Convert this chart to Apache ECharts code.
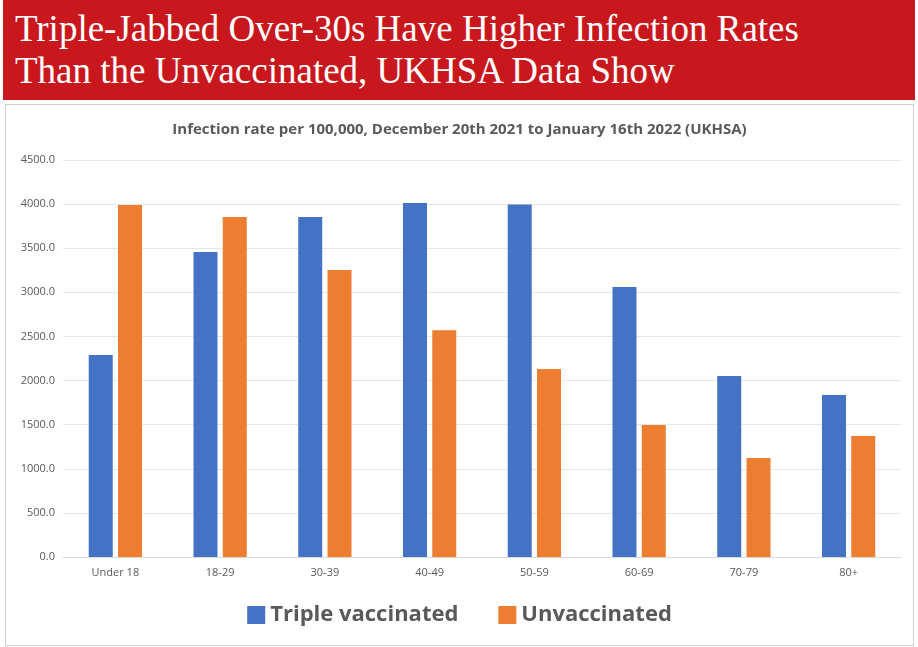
<!DOCTYPE html>
<html>
<head>
<meta charset="utf-8">
<script src="https://cdn.jsdelivr.net/npm/echarts@6/dist/echarts.min.js"></script>
<style>
  body { margin: 0; background: #fff; }
  .banner { position: absolute; left: 3px; top: 0; width: 912px; height: 100px; background: #c8181e;
    color: #fff; font-family: "Liberation Serif", "DejaVu Serif", serif; font-size: 37px; line-height: 42px;
    padding: 8px 0 0 12px; box-sizing: border-box; }
  .box { position: absolute; left: 5px; top: 104px; width: 907px; height: 540px; border: 1px solid #d0d0d0; }
  #chart { width: 907px; height: 540px; }
</style>
</head>
<body>
<div class="banner">Triple-Jabbed Over-30s Have Higher Infection Rates<br>Than the Unvaccinated, UKHSA Data Show</div>
<div class="box"><div id="chart"></div></div>
<script>
// 数据
const categories = ['Under 18', '18-29', '30-39', '40-49', '50-59', '60-69', '70-79', '80+'];
const tripleVaccinated = [2290, 3458, 3855, 4014, 3995, 3060, 2052, 1837];
const unvaccinated = [3990, 3855, 3254, 2570, 2130, 1497, 1122, 1372];

(function () {
  const chart = echarts.init(document.getElementById('chart'));
  const font = '"Open Sans", "Noto Sans", sans-serif';
  let option = {
    animation: false,
    color: ['#4472c4', '#ed7d31'],
    title: {
      text: 'Infection rate per 100,000, December 20th 2021 to January 16th 2022 (UKHSA)',
      left: 'center', top: 12,
      textStyle: { color: '#595959', fontSize: 15, fontWeight: 'bold', fontFamily: font }
    },
    legend: {
      bottom: 14, itemGap: 40, itemWidth: 18, itemHeight: 18,
      textStyle: { color: '#595959', fontSize: 22, fontWeight: 'bold', fontFamily: font },
      data: [{ name: 'Triple vaccinated', icon: 'rect' }, { name: 'Unvaccinated', icon: 'rect' }]
    },
    grid: { left: 57, right: 12, top: 55, bottom: 88 },
    xAxis: {
      type: 'category', data: categories,
      axisTick: { show: false },
      axisLine: { lineStyle: { color: '#d9d9d9' } },
      axisLabel: { color: '#595959', fontSize: 11, fontFamily: font, margin: 10 }
    },
    yAxis: {
      type: 'value', min: 0, max: 4500, interval: 500,
      axisLabel: { color: '#595959', fontSize: 11, fontFamily: font, formatter: v => v.toFixed(1) },
      splitLine: { lineStyle: { color: '#e6e6e6' } }
    },
    series: [
      { name: 'Triple vaccinated', type: 'bar', barWidth: 24, barGap: '22%', data: tripleVaccinated },
      { name: 'Unvaccinated', type: 'bar', barWidth: 24, data: unvaccinated }
    ]
  };
  chart.setOption(option);
})();
</script>
</body>
</html>
